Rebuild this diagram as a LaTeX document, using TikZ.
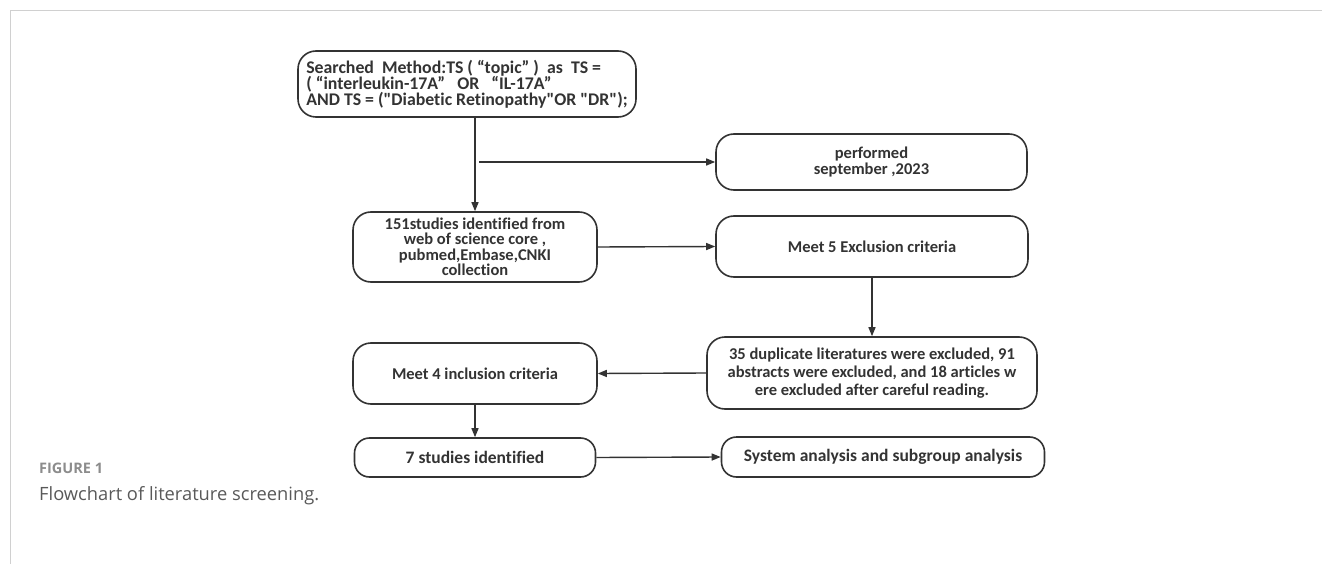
\documentclass[tikz,border=0pt]{standalone}
\usepackage{fontspec}
\setmainfont{Carlito}[Ligatures={TeXOff,NoCommon}]
\newfontfamily\capfont{Open Sans}
\usetikzlibrary{arrows.meta,calc}
\definecolor{ink}{HTML}{333333}
\definecolor{framegray}{HTML}{D0D0D0}
\begin{document}
\begin{tikzpicture}[x=1pt,y=-1pt,
  box/.style={draw=ink,line width=1.6pt,rounded corners=18pt,fill=white,text=ink,
    font=\bfseries\fontsize{16.5}{16.5}\selectfont,align=center,inner sep=1pt},
  arr/.style={draw=ink,line width=1.4pt,-{Triangle[length=9pt,width=7pt]}},
  lin/.style={draw=ink,line width=1.4pt}]
\useasboundingbox (0,0) rectangle (1322,564);
\draw[framegray,line width=1pt] (1322,11) -- (10,11) -- (10,564);
% nodes
\node[box,minimum width=338pt,minimum height=66pt,align=left,
  font=\bfseries\fontsize{17.8}{16.2}\selectfont] (search) at (467,84)
  {Searched\ \ Method:TS ( “topic” )\ \ as\ \ TS =\\
   ( “interleukin-17A”\ \ \ OR\ \ \ “IL-17A”\\
   AND TS = ("Diabetic Retinopathy"OR "DR");};
\node[box,minimum width=311pt,minimum height=56pt] (performed) at (871.5,162)
  {performed\\september ,2023};
\node[box,minimum width=244pt,minimum height=70pt,inner sep=0pt,
  font=\bfseries\fontsize{16.5}{15.5}\selectfont] (s151) at (475,247)
  {151studies identified from\\web of science core ,\\pubmed,Embase,CNKI\\collection};
\node[box,minimum width=312pt,minimum height=61pt] (meet5) at (872,246.5)
  {Meet 5 Exclusion criteria};
\node[box,minimum width=330pt,minimum height=72pt,font=\bfseries\fontsize{16.5}{18}\selectfont] (ex35) at (872,373)
  {35 duplicate literatures were excluded, 91\\abstracts were excluded, and 18 articles w\\ere excluded after careful reading.};
\node[box,minimum width=244pt,minimum height=61pt] (meet4) at (475,373.5)
  {Meet 4 inclusion criteria};
\node[box,minimum width=241pt,minimum height=39pt,rounded corners=15pt,
  font=\bfseries\fontsize{17.5}{17.5}\selectfont] (s7) at (475,457.5)
  {7 studies identified};
\node[box,minimum width=323pt,minimum height=40pt,rounded corners=15pt,
  font=\bfseries\fontsize{17.5}{17.5}\selectfont] (sys) at (883,457)
  {System analysis and subgroup analysis};
% connectors
\coordinate (top) at (search.south -| s151.north);
\coordinate (br) at (s151.north |- performed.west);
\draw[arr] (top) -- (s151.north);
\draw[arr] ($(br)+(4,0)$) -- (performed.west);
\draw[arr] (s151.east) -- (meet5.west);
\draw[arr] (meet5.south) -- (ex35.north);
\draw[arr] (ex35.west) -- (meet4.east);
\draw[arr] (meet4.south) -- (s7.north);
\draw[arr] (s7.east) -- (sys.west);
% caption
\node[anchor=west,inner sep=0pt,text=gray!90,font=\capfont\bfseries\fontsize{14.5}{16}\selectfont] (fig) at (39,468) {FIGURE 1};
\node[anchor=west,inner sep=0pt,text=black!65,font=\capfont\fontsize{18.3}{20}\selectfont] (cap) at (39,496) {Flowchart of literature screening.};
\end{tikzpicture}
\end{document}
